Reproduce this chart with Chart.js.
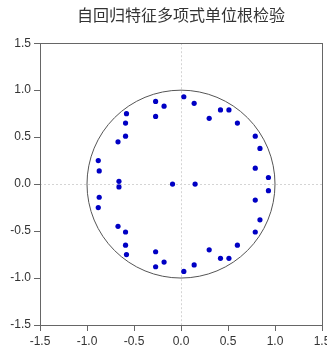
<!DOCTYPE html>
<html>
<head>
<meta charset="utf-8">
<script src="https://cdn.jsdelivr.net/npm/chart.js@4"></script>
<style>
  html, body { margin: 0; padding: 0; background: #ffffff; }
  #wrap { width: 327px; height: 349px; }
</style>
</head>
<body>
<div id="wrap"><canvas id="c"></canvas></div>
<script>
// Inverse roots of the AR characteristic polynomial
const titleText = '自回归特征多项式单位根检验';
const tickValues = [-1.5, -1.0, -0.5, 0.0, 0.5, 1.0, 1.5];
const unitRadius = 1;

const rootRe = [
  -0.27, -0.18, -0.27, -0.58, -0.59, -0.59, -0.67, -0.88, -0.87, -0.66,
   0.03,  0.14,  0.42,  0.51,  0.30,  0.60,  0.79,  0.84,  0.79,  0.93,
  -0.09,  0.15,
  -0.27, -0.18, -0.27, -0.58, -0.59, -0.59, -0.67, -0.88, -0.87, -0.66,
   0.03,  0.14,  0.42,  0.51,  0.30,  0.60,  0.79,  0.84,  0.79,  0.93
];
const rootIm = [
   0.88,  0.83,  0.72,  0.75,  0.65,  0.51,  0.45,  0.25,  0.14,  0.03,
   0.93,  0.86,  0.79,  0.79,  0.70,  0.65,  0.51,  0.38,  0.17,  0.07,
   0.00,  0.00,
  -0.88, -0.83, -0.72, -0.75, -0.65, -0.51, -0.45, -0.25, -0.14, -0.03,
  -0.93, -0.86, -0.79, -0.79, -0.70, -0.65, -0.51, -0.38, -0.17, -0.07
];

const points = rootRe.map((re, i) => ({ x: re, y: rootIm[i] }));

// Unit circle and closed frame around the plot area
const framePlugin = {
  id: 'unitCircleFrame',
  beforeDatasetsDraw(chart) {
    const { ctx, chartArea: a, scales: { x, y } } = chart;
    const cx = x.getPixelForValue(0), cy = y.getPixelForValue(0);
    const rx = x.getPixelForValue(unitRadius) - cx;
    const ry = cy - y.getPixelForValue(unitRadius);
    ctx.save();
    ctx.strokeStyle = '#555555';
    ctx.lineWidth = 1;
    ctx.beginPath();
    ctx.ellipse(cx, cy, rx, ry, 0, 0, Math.PI * 2);
    ctx.stroke();
    ctx.strokeStyle = '#666666';
    ctx.strokeRect(Math.round(a.left) + 0.5, Math.round(a.top) + 0.5,
                   Math.round(a.right - a.left), Math.round(a.bottom - a.top));
    ctx.restore();
  }
};

const zeroGrid = c => (c.tick && c.tick.value === 0) ? '#d4d4d4' : 'rgba(0,0,0,0)';
const tickFont = { family: '"Liberation Sans", Arial, sans-serif', size: 12 };

new Chart(document.getElementById('c'), {
  type: 'scatter',
  data: {
    datasets: [{
      data: points,
      backgroundColor: '#0000c4',
      borderColor: '#0000c4',
      pointRadius: 2.6,
      pointHoverRadius: 2.6,
      borderWidth: 0
    }]
  },
  options: {
    responsive: true,
    maintainAspectRatio: false,
    animation: false,
    layout: { padding: { left: 0, right: 5, top: 0, bottom: 0 } },
    plugins: {
      legend: { display: false },
      tooltip: { enabled: false },
      title: {
        display: true,
        text: titleText,
        fullSize: false,
        color: '#333333',
        font: { family: '"Noto Sans CJK SC", sans-serif', size: 16, weight: 'normal', lineHeight: 1.2 },
        padding: { top: 5, bottom: 19 }
      }
    },
    scales: {
      x: {
        type: 'linear',
        min: -1.5, max: 1.5,
        afterBuildTicks: s => { s.ticks = tickValues.map(v => ({ value: v })); },
        afterFit: s => { s.height = 24; s.paddingRight = 0; s.paddingLeft = 0; },
        ticks: { color: '#333333', font: tickFont, padding: 3, maxRotation: 0, autoSkip: false,
                 callback: v => Number(v).toFixed(1) },
        grid: { color: zeroGrid, tickColor: '#666666', tickLength: 6, lineWidth: 1 },
        border: { display: false, dash: [2, 2] }
      },
      y: {
        type: 'linear',
        min: -1.5, max: 1.5,
        afterBuildTicks: s => { s.ticks = tickValues.map(v => ({ value: v })); },
        afterFit: s => { s.width = 40; s.paddingTop = 0; s.paddingBottom = 0; },
        ticks: { color: '#333333', font: tickFont, padding: 3, autoSkip: false,
                 callback: v => Number(v).toFixed(1) },
        grid: { color: zeroGrid, tickColor: '#666666', tickLength: 6, lineWidth: 1 },
        border: { display: false, dash: [2, 2] }
      }
    }
  },
  plugins: [framePlugin]
});
</script>
</body>
</html>
